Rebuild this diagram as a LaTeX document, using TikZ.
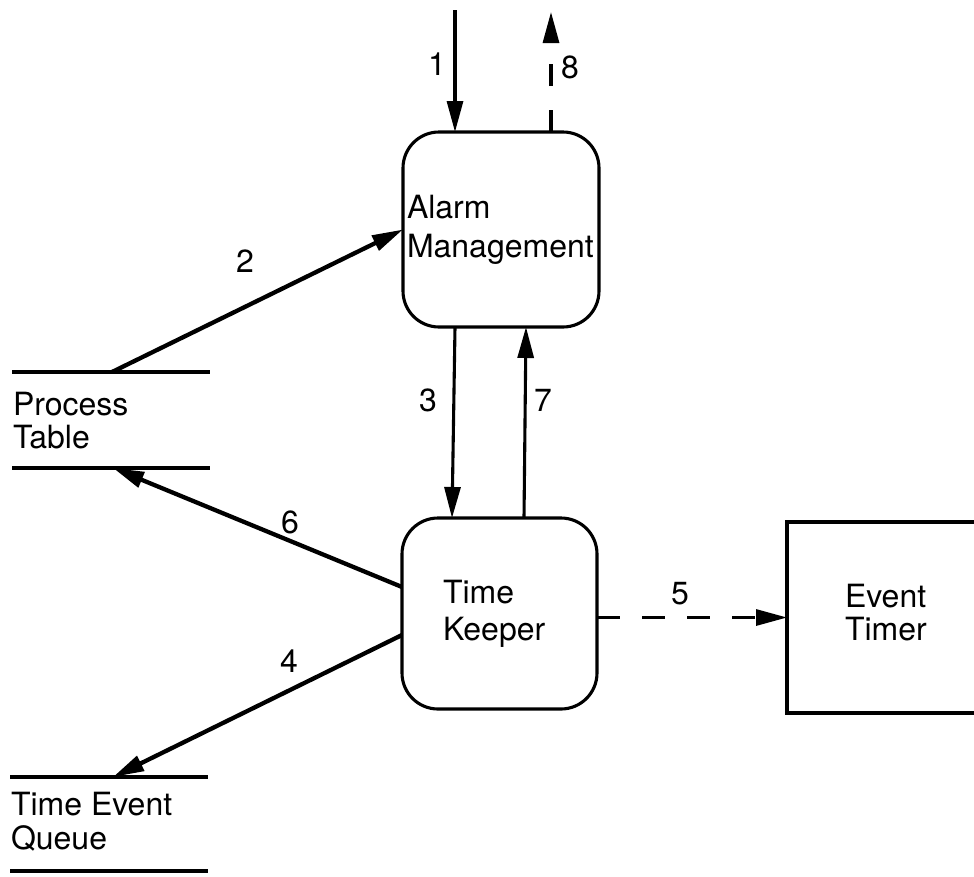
\documentclass[tikz,border=0pt]{standalone}
\usepackage{fontspec}
\setmainfont{TeX Gyre Heros}
\usetikzlibrary{arrows.meta}
\begin{document}
\begin{tikzpicture}[x=1pt,y=-1pt,
  every node/.style={inner sep=0pt, outer sep=0pt},
  lbl/.style={font=\fontsize{32}{38}\selectfont},
  txt/.style={font=\fontsize{32}{38}\selectfont, anchor=base west},
  procbox/.style={draw, line width=3.1pt, rounded corners=36pt},
  extbox/.style={draw, line width=3.1pt},
  storeline/.style={line width=3.2pt},
  flow/.style={line width=3.1pt, -{Triangle[length=31pt,width=16pt]}},
  heavyflow/.style={flow, line width=4.3pt},
  dashflow/.style={flow, dash pattern=on 23pt off 22pt},
]
\fill[white] (0,0) rectangle (974,876);
\clip (0,0) rectangle (974,876);

% processes
\node[procbox, minimum width=196pt, minimum height=195pt] (am) at (501,229.5) {};
\node[txt] (amt1) at (407,218) {Alarm};
\node[txt] (amt2) at (407,257) {Management};

\node[procbox, minimum width=195pt, minimum height=191pt] (tk) at (499.5,613.5) {};
\node[txt] (tkt1) at (443,603) {Time};
\node[txt] (tkt2) at (443,640) {Keeper};

% external entity (runs past the right edge)
\node[extbox, minimum width=260pt, minimum height=191pt] (et) at (917,617.5) {};
\node[txt] (ett1) at (845,607) {Event};
\node[txt] (ett2) at (845,640) {Timer};

% data stores
\node[minimum width=198pt, minimum height=96pt] (ps) at (111,420) {};
\draw[storeline] (ps.north west) -- (ps.north east) (ps.south west) -- (ps.south east);
\node[txt] (pst1) at (13,415) {Process};
\node[txt] (pst2) at (13,448) {Table};

\node[minimum width=198pt, minimum height=94pt] (tq) at (109,824) {};
\draw[storeline] (tq.north west) -- (tq.north east) (tq.south west) -- (tq.south east);
\node[txt] (tqt1) at (11,815) {Time Event};
\node[txt] (tqt2) at (11,849) {Queue};

% flows
\coordinate (src1) at (455,10);
\coordinate (dst8) at (551,12);
\draw[flow] (src1) -- (src1 |- am.north);
\draw[dashflow, dash pattern=on 22pt off 24pt] (dst8 |- am.north) -- (dst8);
\draw[heavyflow] ([xshift=100pt]ps.north west) -- (am.west);
\draw[flow] ([xshift=-46pt]am.south) -- ([xshift=-47.5pt]tk.north);
\draw[flow] ([xshift=24.5pt]tk.north) -- ([xshift=25pt]am.south);
\draw[heavyflow] ([yshift=26.5pt]tk.west) -- ([xshift=101pt]ps.south west);
\draw[heavyflow] ([yshift=-21.5pt]tk.west) -- ([xshift=103pt]tq.north west);
\draw[dashflow] (tk.east |- et.west) -- (et.west);

% flow numbers
\node[lbl] (n1) at (437,64) {1};
\node[lbl] (n8) at (570,67) {8};
\node[lbl] (n2) at (245,261) {2};
\node[lbl] (n3) at (428,400) {3};
\node[lbl] (n7) at (543,400) {7};
\node[lbl] (n6) at (290,522) {6};
\node[lbl] (n4) at (289,661) {4};
\node[lbl] (n5) at (680,594) {5};
\end{tikzpicture}
\end{document}
